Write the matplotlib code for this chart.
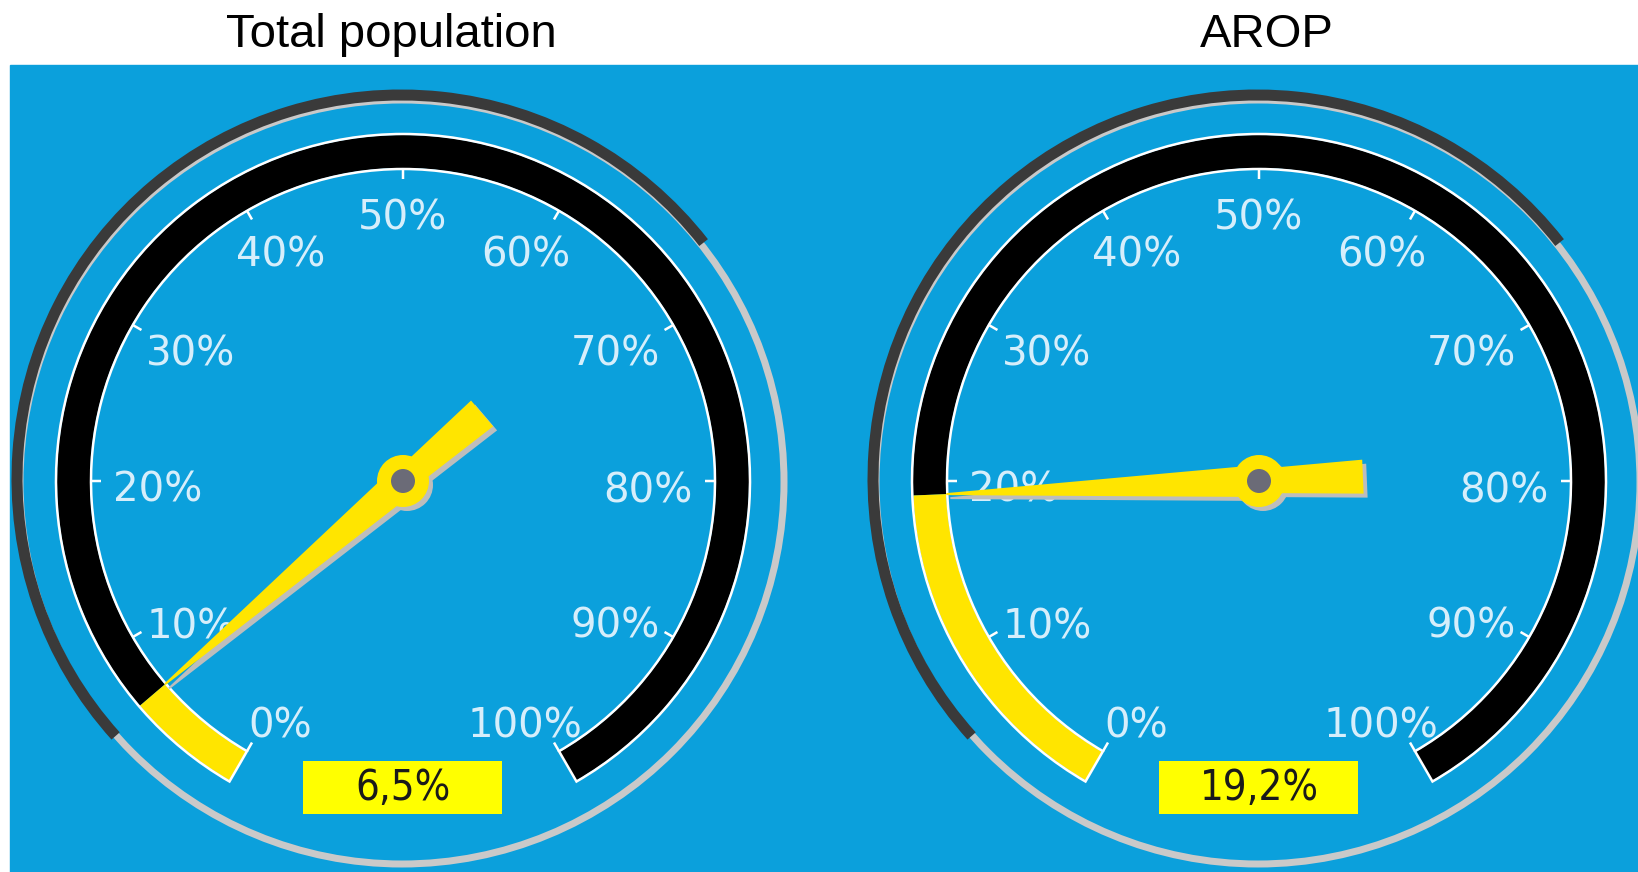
import numpy as np
import matplotlib.pyplot as plt
from matplotlib.patches import Wedge, Rectangle, Circle, Arc, Polygon

# gauge readings (percent)
panels = ["Total population", "AROP"]
values = [6.5, 19.2]
scale_ticks = [0, 10, 20, 30, 40, 50, 60, 70, 80, 90, 100]
scale_labels = ["0%", "10%", "20%", "30%", "40%", "50%", "60%", "70%", "80%", "90%", "100%"]

W, H = 1638, 872
BLUE = '#0ba0dc'
YELLOW = '#ffe500'
TICK_TXT = '#d6eefb'

centers = [(403, 391), (1259, 391)]
title_x = [391, 1267]

R_OUT, R_IN = 346, 313


def ang(v):
    # 0% sits at lower left, 100% at lower right, 300 degree sweep
    return 240 - 3.0 * v


def px(p):
    return p * 0.72


fig = plt.figure(figsize=(W / 100, H / 100), dpi=100)
ax = fig.add_axes([0, 0, 1, 1])
ax.set_xlim(0, W)
ax.set_ylim(0, H)
ax.axis('off')

ax.add_patch(Rectangle((10, 0), W - 10, H - 65, color=BLUE, zorder=0))

for name, val, (cx, cy), tx in zip(panels, values, centers, title_x):
    ax.text(tx, H - 47, name, ha='center', va='baseline', fontsize=34,
            family=['Liberation Sans', 'DejaVu Sans'], color='black')

    # bezel: light ring below, dark shadowed ring over the upper left
    ax.add_patch(Circle((cx - 1, cy - 1), 382, fill=False, ec='#c9c9c9', lw=px(7), zorder=1))
    ax.add_patch(Arc((cx - 2, cy + 2), 2 * 384, 2 * 384, theta1=38, theta2=222,
                     ec='#3a3a3a', lw=px(11), zorder=2))

    # scale band
    a = ang(val)
    ax.add_patch(Wedge((cx, cy), R_OUT, -60, a, width=R_OUT - R_IN, fc='black', ec='none', zorder=3))
    ax.add_patch(Wedge((cx, cy), R_OUT, a, 240, width=R_OUT - R_IN, fc=YELLOW, ec='none', zorder=3))
    ax.add_patch(Wedge((cx, cy), R_OUT + 1, -60, 240, width=R_OUT - R_IN + 2, fc='none',
                       ec='white', lw=px(2.5), zorder=4))

    for t, lab in zip(scale_ticks, scale_labels):
        th = np.radians(ang(t))
        ax.plot([cx + (R_IN - 1) * np.cos(th), cx + (R_IN - 11) * np.cos(th)],
                [cy + (R_IN - 1) * np.sin(th), cy + (R_IN - 11) * np.sin(th)],
                color='white', lw=px(2.5), zorder=4, solid_capstyle='butt')
        ax.text(cx + 245 * np.cos(th), cy + 272 * np.sin(th) - 10, lab,
                ha='center', va='center', fontsize=29, color=TICK_TXT,
                family='DejaVu Sans', zorder=5)

    # needle
    th = np.radians(a)
    u = np.array([np.cos(th), np.sin(th)])
    n = np.array([-np.sin(th), np.cos(th)])
    c = np.array([cx, cy], dtype=float)
    shape = [c + R_IN * u - 1 * n, c + R_IN * u + 1 * n, c + 16 * n,
             c - 20 * u + 13 * n, c - 104 * u + 17 * n,
             c - 104 * u - 17 * n, c - 20 * u - 13 * n, c - 16 * n]
    shadow = [p + np.array([4, -4]) for p in shape]
    ax.add_patch(Polygon(shadow, closed=True, fc='#bdbdbd', ec='none', zorder=6))
    ax.add_patch(Circle((cx + 4, cy - 4), 26, fc='#bdbdbd', ec='none', zorder=6))
    ax.add_patch(Polygon(shape, closed=True, fc=YELLOW, ec='none', zorder=7))
    ax.add_patch(Circle((cx, cy), 26, fc=YELLOW, ec='none', zorder=8))
    ax.add_patch(Circle((cx, cy), 12, fc='#6b6b77', ec='none', zorder=9))

    # value readout
    ax.add_patch(Rectangle((cx - 100, 58), 199, 53, fc='#ffff00', ec='none', zorder=5))
    ax.text(cx, 84, f"{val:.1f}%".replace('.', ','), ha='center', va='center',
            fontsize=30, fontstretch='condensed', color='#1a1a1a',
            family='DejaVu Sans', zorder=6)

fig.savefig('out.png', dpi=100, facecolor='white')
